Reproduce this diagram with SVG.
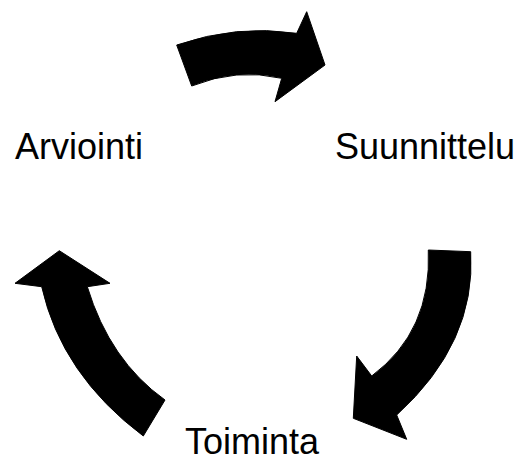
<svg xmlns="http://www.w3.org/2000/svg" width="520" height="462" viewBox="0 0 520 462">
<style>
.lbl{font-family:"Liberation Sans",Arial,sans-serif;font-size:36px;fill:#000}
.arr{fill:#000;stroke:#000;stroke-width:1;stroke-linejoin:round}
</style>
<rect width="520" height="462" fill="#fff"/>
<g id="connectors">
<path id="arrow-top" class="arr" d="M176.7,45 Q236.7,24.2 296.7,33.3 L306.7,11.7 L325,65 L275,101.7 L281.7,78.3 Q236.7,67.8 191.7,86 Z"/>
<path id="arrow-right" class="arr" d="M428.3,250 L470.7,251.7 Q476.3,342.7 396.7,415 L406.7,439.3 L353.3,418.3 L356.7,356 L371.7,376 Q432,331 428.3,250 Z"/>
<path id="arrow-left" class="arr" d="M59.3,250.7 L110,283.3 L87.3,286.7 Q109.8,360.6 165,400 L143.3,436 Q61.5,374.7 41.7,286.7 L15,283.3 Z"/>
</g>
<g id="node-suunnittelu"><text class="lbl" x="335" y="159">Suunnittelu</text></g>
<g id="node-toiminta"><text class="lbl" x="185" y="454">Toiminta</text></g>
<g id="node-arviointi"><text class="lbl" x="15" y="159">Arviointi</text></g>
</svg>
